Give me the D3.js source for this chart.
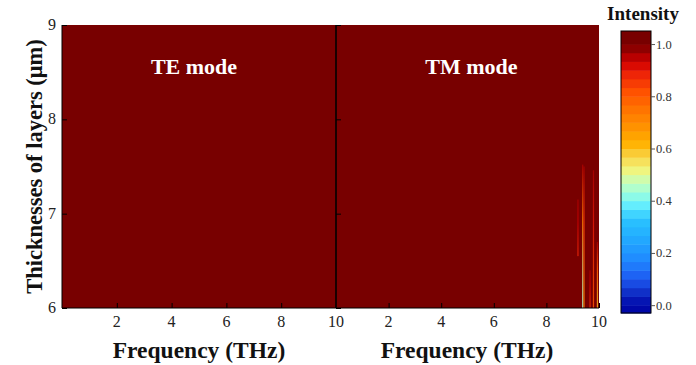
<!DOCTYPE html>
<html>
<head>
<meta charset="utf-8">
<script src="https://cdn.jsdelivr.net/npm/d3@7"></script>
<style>
  html, body { margin: 0; padding: 0; background: #fff; }
  svg text { font-family: "Liberation Serif", "Times New Roman", Times, serif; }
</style>
</head>
<body>
<svg id="chart" width="696" height="365"></svg>
<script>
// --- data ---
const freqDomain = [0, 10];            // THz
const thickDomain = [6, 9];            // µm
const freqTicks = [2, 4, 6, 8, 10];
const thickTicks = [6, 7, 8, 9];
const panels = ['TE mode', 'TM mode'];
const baseIntensity = [1.0, 1.0];      // field is saturated almost everywhere

// thin resonance streaks in the TM panel
const streakFreq   = [9.20, 9.38, 9.43, 9.66, 9.79, 9.94];
const streakTop    = [7.15, 7.52, 7.50, 6.40, 7.46, 6.70];
const streakBottom = [6.55, 6.00, 6.00, 6.00, 6.00, 6.00];
const streakValue  = [0.88, 0.45, 0.70, 0.86, 0.80, 0.60];

// colour bar
const cbarTicks = [0.0, 0.2, 0.4, 0.6, 0.8, 1.0];
const cbarDomain = [-0.03, 1.05];
const colorStops = [0.0, 0.05, 0.10, 0.17, 0.25, 0.33, 0.38, 0.43, 0.48, 0.52, 0.57, 0.62, 0.68, 0.75, 0.82, 0.88, 0.93, 0.97, 1.0];
const colorValues = ['#0008a8', '#1030c8', '#1e58f0', '#2088ff', '#22a8ff', '#2ac4ff', '#60ecff', '#9cffe0', '#cdfdb0',
                     '#f2f47a', '#f8d448', '#ffb200', '#ff9400', '#ff7400', '#ff5000', '#f02808', '#d20000', '#a00000', '#780000'];

const FONT = '"Liberation Serif", "Times New Roman", Times, serif';
const svg = d3.select('#chart');
const color = d3.scaleLinear().domain(colorStops).range(colorValues).clamp(true);

const plotTop = 25, plotBottom = 308;
const panelX = [[62, 336], [336, 599]];

const y = d3.scaleLinear().domain(thickDomain).range([plotBottom, plotTop]);

const defs = svg.append('defs');

panels.forEach((name, i) => {
  const x = d3.scaleLinear().domain(freqDomain).range(panelX[i]);
  const g = svg.append('g');

  defs.append('clipPath').attr('id', 'clip' + i)
    .append('rect')
    .attr('x', x(freqDomain[0])).attr('y', y(thickDomain[1]))
    .attr('width', x(freqDomain[1]) - x(freqDomain[0]))
    .attr('height', y(thickDomain[0]) - y(thickDomain[1]));

  const field = g.append('g').attr('clip-path', `url(#clip${i})`);
  field.append('rect')
    .attr('x', x(freqDomain[0])).attr('y', y(thickDomain[1]))
    .attr('width', x(freqDomain[1]) - x(freqDomain[0]))
    .attr('height', y(thickDomain[0]) - y(thickDomain[1]))
    .attr('fill', color(baseIntensity[i]));

  if (i === 1) {
    streakFreq.forEach((f, k) => {
      const gid = 'sg' + k;
      const grad = defs.append('linearGradient').attr('id', gid)
        .attr('x1', 0).attr('y1', 1).attr('x2', 0).attr('y2', 0);
      grad.append('stop').attr('offset', '0%').attr('stop-color', color(streakValue[k]));
      grad.append('stop').attr('offset', '60%').attr('stop-color', color((streakValue[k] + 1) / 2));
      grad.append('stop').attr('offset', '100%').attr('stop-color', color(0.96));
      field.append('rect')
        .attr('x', x(f) - 0.6)
        .attr('y', y(streakTop[k]))
        .attr('width', 1.2)
        .attr('height', y(streakBottom[k]) - y(streakTop[k]))
        .attr('fill', `url(#${gid})`)
        .attr('opacity', 0.85);
    });
  }

  // bottom axis, ticks pointing into the plot
  const xAxis = g.append('g').attr('transform', `translate(0,${plotBottom})`);
  xAxis.call(d3.axisTop(x).tickValues(d3.range(0.5, 10, 0.5)).tickSize(3).tickFormat(''))
    .call(a => a.select('.domain').remove());
  xAxis.call(d3.axisTop(x).tickValues(freqTicks).tickSize(5).tickFormat(''))
    .call(a => a.select('.domain').remove());
  xAxis.append('line').attr('x1', panelX[i][0]).attr('x2', panelX[i][1]).attr('stroke', '#000').attr('stroke-width', 1.2);
  xAxis.selectAll('.tick line').attr('stroke', '#000');
  xAxis.selectAll('.lbl').data(freqTicks).join('text')
    .attr('x', d => x(d)).attr('y', 19)
    .attr('text-anchor', 'middle').attr('font-size', 16).attr('font-family', FONT).attr('fill', '#222')
    .text(d => d);

  // left axis of each panel, ticks pointing right
  const yAxis = g.append('g').attr('transform', `translate(${panelX[i][0]},0)`);
  yAxis.call(d3.axisRight(y).tickValues(d3.range(6, 9.01, 1 / 6)).tickSize(3).tickFormat(''))
    .call(a => a.select('.domain').remove());
  yAxis.call(d3.axisRight(y).tickValues(thickTicks).tickSize(5).tickFormat(''))
    .call(a => a.select('.domain').remove());
  yAxis.append('line').attr('y1', plotTop).attr('y2', plotBottom)
    .attr('stroke', '#000').attr('stroke-width', i === 0 ? 1 : 1.6);
  yAxis.selectAll('.tick line').attr('stroke', '#000');
  if (i === 0) {
    yAxis.selectAll('.lbl').data(thickTicks).join('text')
      .attr('x', -6).attr('y', d => y(d) + 5)
      .attr('text-anchor', 'end').attr('font-size', 16).attr('font-family', FONT).attr('fill', '#222')
      .text(d => d);
  }

  g.append('text')
    .attr('x', (panelX[i][0] + panelX[i][1]) / 2 + (i === 0 ? -5 : 4)).attr('y', 74)
    .attr('text-anchor', 'middle').attr('font-size', 22).attr('font-weight', 'bold')
    .attr('font-family', FONT).attr('fill', '#fff').text(name);

  g.append('text')
    .attr('x', i === 0 ? 199 : 467).attr('y', 358)
    .attr('text-anchor', 'middle').attr('font-size', 23.5).attr('font-weight', 'bold')
    .attr('font-family', FONT).attr('fill', '#111').text('Frequency (THz)');
});

svg.append('text')
  .attr('transform', `translate(42,${(plotTop + plotBottom) / 2}) rotate(-90)`)
  .attr('text-anchor', 'middle').attr('font-size', 22.5).attr('font-weight', 'bold')
  .attr('font-family', FONT).attr('fill', '#111').text('Thicknesses of layers (μm)');

// --- colour bar ---
const cx0 = 621, cx1 = 651;
const cy = d3.scaleLinear().domain(cbarDomain).range([313, 31]);
const bandEdges = d3.range(-1, 31).map(i => i / 30).concat([cbarDomain[1]]);
const bands = d3.pairs(bandEdges).map(([a, b]) => ({ a: Math.max(a, cbarDomain[0]), b, v: Math.min((a + b) / 2, 1) }));
const cbar = svg.append('g');
cbar.selectAll('rect.band').data(bands).join('rect')
  .attr('class', 'band')
  .attr('x', cx0).attr('width', cx1 - cx0)
  .attr('y', d => cy(d.b)).attr('height', d => cy(d.a) - cy(d.b) + 0.5)
  .attr('fill', d => color(d.v));
cbar.append('rect')
  .attr('x', cx0).attr('y', cy(cbarDomain[1]))
  .attr('width', cx1 - cx0).attr('height', cy(cbarDomain[0]) - cy(cbarDomain[1]))
  .attr('fill', 'none').attr('stroke', '#000').attr('stroke-width', 1);
cbar.append('g').attr('transform', `translate(${cx1},0)`)
  .call(d3.axisRight(cy).tickValues(cbarTicks).tickSize(4).tickFormat(d3.format('.1f')))
  .call(a => a.select('.domain').remove())
  .call(a => a.attr('font-family', FONT))
  .call(a => a.selectAll('text').attr('font-size', 12.5).attr('fill', '#333')
    .attr('font-family', FONT).attr('x', 5))
  .call(a => a.selectAll('line').attr('stroke', '#555'));

svg.append('text')
  .attr('x', 643).attr('y', 20)
  .attr('text-anchor', 'middle').attr('font-size', 19).attr('font-weight', 'bold')
  .attr('font-family', FONT).attr('fill', '#111').text('Intensity');
</script>
</body>
</html>
